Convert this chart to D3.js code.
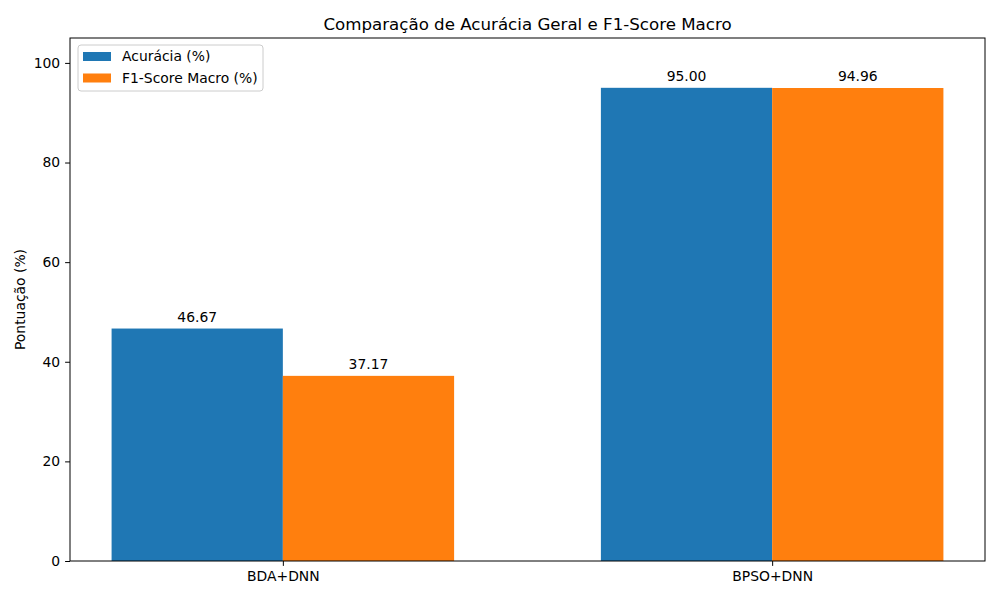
<!DOCTYPE html>
<html>
<head>
<meta charset="utf-8">
<script src="https://cdn.jsdelivr.net/npm/d3@7"></script>
<style>
  body { margin: 0; background: #fff; }
  text { font-family: "DejaVu Sans", sans-serif; }
</style>
</head>
<body>
<svg id="chart" width="1000" height="600"></svg>
<script>
// data
const categories = ["BDA+DNN", "BPSO+DNN"];
const seriesNames = ["Acurácia (%)", "F1-Score Macro (%)"];
const accuracy = [46.67, 95.00];
const f1macro = [37.17, 94.96];
const yTicks = [0, 20, 40, 60, 80, 100];

const series = [accuracy, f1macro];
const colors = ["#1f77b4", "#ff7f0e"];

const svg = d3.select("#chart");
const margin = {left: 70, right: 15, top: 38, bottom: 39};
const W = 1000, H = 600;
const innerW = W - margin.left - margin.right,
      innerH = H - margin.top - margin.bottom;

const fs = 13.9;   // 10pt at 100 dpi
const barW = 0.35;

// matplotlib-like linear x with 5% margins
const xscale = d3.scaleLinear()
  .domain([-barW - 0.085, 1 + barW + 0.085])
  .range([margin.left, W - margin.right]);

const yscale = d3.scaleLinear()
  .domain([0, 105])
  .range([H - margin.bottom, margin.top]);

const g = svg.append("g");

// bars
series.forEach((vals, si) => {
  const off = si === 0 ? -barW / 2 : barW / 2;
  g.selectAll(".bar" + si)
    .data(vals)
    .enter()
    .append("rect")
    .attr("x", (d, i) => xscale(i + off - barW / 2))
    .attr("width", xscale(barW) - xscale(0))
    .attr("y", d => yscale(d))
    .attr("height", d => yscale(0) - yscale(d))
    .attr("fill", colors[si]);

  g.selectAll(".lab" + si)
    .data(vals)
    .enter()
    .append("text")
    .attr("x", (d, i) => xscale(i + off))
    .attr("y", d => yscale(d) - 7)
    .attr("text-anchor", "middle")
    .attr("font-size", fs)
    .text(d => d.toFixed(2));
});

// axes
const yAxis = d3.axisLeft(yscale).tickValues(yTicks).tickSize(4.9).tickPadding(4.9);
const yg = svg.append("g")
  .attr("transform", `translate(${margin.left},0)`)
  .call(yAxis);
yg.select(".domain").remove();
yg.selectAll("text").attr("font-size", fs).attr("fill", "#000").style("font-family", "DejaVu Sans");
yg.selectAll("line").attr("stroke", "#000");

const xAxis = d3.axisBottom(xscale).tickValues([0, 1])
  .tickFormat(i => categories[i]).tickSize(4.9).tickPadding(4.9);
const xg = svg.append("g")
  .attr("transform", `translate(0,${H - margin.bottom})`)
  .call(xAxis);
xg.select(".domain").remove();
xg.selectAll("text").attr("font-size", fs).attr("fill", "#000").style("font-family", "DejaVu Sans");
xg.selectAll("line").attr("stroke", "#000");

// frame
svg.append("rect")
  .attr("x", margin.left)
  .attr("y", margin.top)
  .attr("width", innerW)
  .attr("height", innerH)
  .attr("fill", "none")
  .attr("stroke", "#000")
  .attr("stroke-width", 1);

// title
svg.append("text")
  .attr("x", margin.left + innerW / 2)
  .attr("y", margin.top - 8)
  .attr("text-anchor", "middle")
  .attr("font-size", 16.67)
  .text("Comparação de Acurácia Geral e F1-Score Macro");

// y label
svg.append("text")
  .attr("transform", `translate(25,${margin.top + innerH / 2}) rotate(-90)`)
  .attr("text-anchor", "middle")
  .attr("font-size", fs)
  .text("Pontuação (%)");

// legend
const leg = svg.append("g").attr("transform", "translate(78,45)");
leg.append("rect")
  .attr("width", 185).attr("height", 46)
  .attr("rx", 3)
  .attr("fill", "#fff").attr("fill-opacity", 0.8)
  .attr("stroke", "#ccc");
seriesNames.forEach((name, i) => {
  leg.append("rect")
    .attr("x", 5).attr("y", 7 + i * 21.5)
    .attr("width", 28).attr("height", 9)
    .attr("fill", colors[i]);
  leg.append("text")
    .attr("x", 44).attr("y", 16 + i * 21.5)
    .attr("font-size", fs)
    .text(name);
});
</script>
</body>
</html>
